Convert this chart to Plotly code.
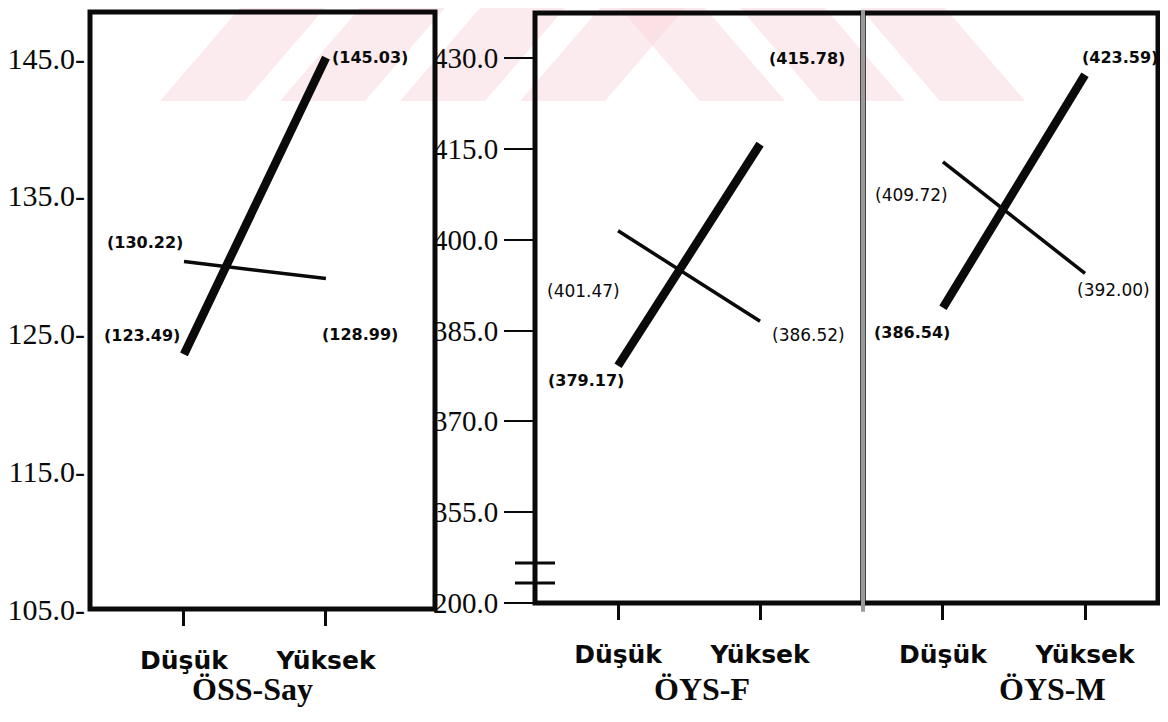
import plotly.graph_objects as go

# ---------------- data ----------------
categories = ["Düşük", "Yüksek"]
panel_titles = ["ÖSS-Say", "ÖYS-F", "ÖYS-M"]

oss_thick = [123.49, 145.03]
oss_thin = [130.22, 128.99]
oysf_thick = [379.17, 415.78]
oysf_thin = [401.47, 386.52]
oysm_thick = [386.54, 423.59]
oysm_thin = [409.72, 392.00]

oss_tick_vals = [105, 115, 125, 135, 145]
oss_tick_text = ["105.0-", "115.0-", "125.0-", "135.0-", "145.0-"]
# broken axis: the lowest tick stands for 200.0
oys_tick_vals = [340, 355, 370, 385, 400, 415, 430]
oys_tick_text = ["200.0", "355.0", "370.0", "385.0", "400.0", "415.0", "430.0"]

# ---------------- styling ----------------
OFF = 8             # page body margin
FW, FH = 1152, 706  # figure size inside the 1168x722 window

def fx(p):
    return min(1.0, max(0.0, (p - OFF) / FW))
def fy(p):
    return min(1.0, max(0.0, 1 - (p - OFF) / FH))
def px_x(a, b):
    return [fx(a), fx(b)]
def px_y(top, bottom):
    return [fy(bottom), fy(top)]

BLACK = "#0a0a0a"
thick_w, thin_w = 8.5, 3.5

fig = go.Figure()

series = [
    ("x", "y", oss_thick, oss_thin),
    ("x2", "y2", oysf_thick, oysf_thin),
    ("x3", "y3", oysm_thick, oysm_thin),
]
for xa, ya, thick, thin in series:
    fig.add_trace(go.Scatter(x=categories, y=thin, mode="lines", xaxis=xa, yaxis=ya,
                             line=dict(color=BLACK, width=thin_w), showlegend=False, hoverinfo="skip"))
    fig.add_trace(go.Scatter(x=categories, y=thick, mode="lines", xaxis=xa, yaxis=ya,
                             line=dict(color=BLACK, width=thick_w), showlegend=False, hoverinfo="skip"))

# value labels: (axis suffix, category index, value, bold, xshift, yshift)
label_style = [
    ("", 1, oss_thick[1], True, 44, 0),
    ("", 0, oss_thin[0], True, -39, 19),
    ("", 0, oss_thick[0], True, -42, 19),
    ("", 1, oss_thin[1], True, 34, -56),
    ("2", 1, oysf_thick[1], True, 47, 86),
    ("2", 0, oysf_thick[0], True, -32, -15),
    ("2", 0, oysf_thin[0], False, -35, -60),
    ("2", 1, oysf_thin[1], False, 48, -14),
    ("3", 1, oysm_thick[1], True, 35, 17),
    ("3", 0, oysm_thick[0], True, -31, -25),
    ("3", 0, oysm_thin[0], False, -31, -33),
    ("3", 1, oysm_thin[1], False, 28, -17),
]
annotations = []
for suf, ci, v, bold, dx, dy in label_style:
    txt = f"({v:.2f})"
    annotations.append(dict(
        x=categories[ci], y=v, xref="x" + suf, yref="y" + suf,
        text=f"<b>{txt}</b>" if bold else txt, showarrow=False,
        xshift=dx, yshift=dy, xanchor="center", yanchor="middle",
        font=dict(family="DejaVu Sans", size=16 if bold else 17, color=BLACK)))

title_pos = [252, 702, 1052]
for t, xp in zip(panel_titles, title_pos):
    annotations.append(dict(x=fx(xp), y=fy(689), xref="paper", yref="paper",
                            text=f"<b>{t}</b>", showarrow=False, xanchor="center", yanchor="middle",
                            font=dict(family="Liberation Serif", size=32, color=BLACK)))

xaxis_common = dict(type="category", showgrid=False, zeroline=False, showline=False,
                    automargin=False,
                    ticks="outside", ticklen=16, tickwidth=3, tickcolor=BLACK,
                    ticklabelstandoff=13,
                    tickfont=dict(family="DejaVu Sans", size=25, color=BLACK, weight="bold"))

fig.update_layout(
    width=FW, height=FH, margin=dict(l=0, r=0, t=0, b=0, autoexpand=False),
    paper_bgcolor="white", plot_bgcolor="rgba(0,0,0,0)",
    xaxis=dict(domain=px_x(90, 435), range=[-0.662, 1.768], anchor="y", **xaxis_common),
    xaxis2=dict(domain=px_x(535, 863), range=[-0.585, 1.725], anchor="y2", **xaxis_common),
    xaxis3=dict(domain=px_x(863, 1158), range=[-0.563, 1.514], anchor="y3", **xaxis_common),
    yaxis=dict(domain=px_y(12, 609), range=[105, 148.34], anchor="x",
               tickvals=oss_tick_vals, ticktext=oss_tick_text, ticks="",
               ticklabelstandoff=4, automargin=False,
               showgrid=False, zeroline=False, showline=False,
               tickfont=dict(family="Liberation Serif", size=30, color=BLACK)),
    yaxis2=dict(domain=px_y(13, 603), range=[340, 437.43], anchor="x2",
                tickvals=oys_tick_vals, ticktext=oys_tick_text, automargin=False,
                ticks="outside", ticklen=30, tickwidth=1.5, tickcolor=BLACK,
                showgrid=False, zeroline=False, showline=False,
                tickfont=dict(family="Liberation Serif", size=29, color=BLACK)),
    yaxis3=dict(domain=px_y(13, 603), range=[339.6, 433.4], anchor="x3", automargin=False,
                showticklabels=False, ticks="", showgrid=False, zeroline=False, showline=False),
    annotations=annotations,
)

shapes = []
# faint pink watermark stripes at the top
PINK = "rgba(250,215,222,0.5)"
for x0 in [160, 280, 400, 520]:
    shapes.append(dict(type="path", xref="paper", yref="paper", layer="below",
                       path=f"M {fx(x0)} {fy(101)} L {fx(x0+85)} {fy(101)} L {fx(x0+165)} 1 L {fx(x0+80)} 1 Z",
                       fillcolor=PINK, line=dict(width=0)))
for x0 in [700, 820, 940]:
    shapes.append(dict(type="path", xref="paper", yref="paper", layer="below",
                       path=f"M {fx(x0)} {fy(101)} L {fx(x0+85)} {fy(101)} L {fx(x0+5)} 1 L {fx(x0-80)} 1 Z",
                       fillcolor=PINK, line=dict(width=0)))
# frames
for suf in ["", "2", "3"]:
    shapes.append(dict(type="rect", xref=f"x{suf} domain", yref=f"y{suf} domain",
                       x0=0, x1=1, y0=0, y1=1, line=dict(color=BLACK, width=5), layer="above"))
# grey divider between ÖYS-F and ÖYS-M
shapes.append(dict(type="line", xref="x3 domain", yref="y3 domain", x0=0, x1=0, y0=-0.015, y1=1.005,
                   line=dict(color="#9a9a9a", width=4), layer="above"))
# axis-break marks on the ÖYS-F axis
for yb in [0.034, 0.068]:
    shapes.append(dict(type="line", xref="x2 domain", yref="y2 domain", x0=-0.061, x1=0.061,
                       y0=yb, y1=yb, line=dict(color=BLACK, width=3), layer="above"))
fig.update_layout(shapes=shapes)

fig.write_html("out.html")
